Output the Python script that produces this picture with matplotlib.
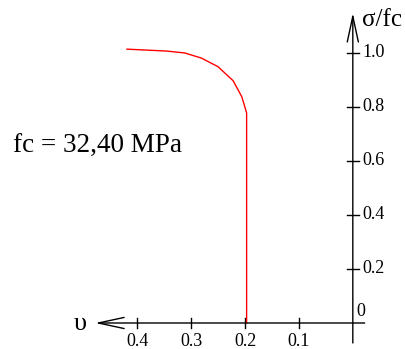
import matplotlib
matplotlib.use("Agg")
import matplotlib.pyplot as plt

plt.rcParams['font.family'] = ['Liberation Serif', 'DejaVu Serif']

# curve points (nu, sigma/fc)
nu = [0.419, 0.346, 0.312, 0.281, 0.250, 0.222, 0.206, 0.197, 0.197]
sig = [1.014, 1.007, 1.000, 0.981, 0.949, 0.897, 0.838, 0.778, 0.0]

xticks = [0.4, 0.3, 0.2, 0.1]
xlabels = ['0.4', '0.3', '0.2', '0.1']
yticks = [0.2, 0.4, 0.6, 0.8, 1.0]
ylabels = ['0.2', '0.4', '0.6', '0.8', '1.0']

fig = plt.figure(figsize=(4.05, 3.49), dpi=100)
ax = fig.add_axes([0, 0, 1, 1])
ax.set_xlim(0.6545, -0.0968)
ax.set_ylim(-0.0963, 1.196)
ax.axis('off')

# axes with open arrow heads
arr = dict(arrowstyle='->,head_length=18.5,head_width=4', mutation_scale=1,
           color='black', lw=1.0, shrinkA=0, shrinkB=0)
ax.annotate('', xy=(0, 1.148), xytext=(0, -0.074), arrowprops=arr)
ax.annotate('', xy=(0.478, 0), xytext=(-0.022, 0), arrowprops=arr)

# ticks crossing the axes
for v, lab in zip(xticks, xlabels):
    ax.plot([v, v], [-0.02, 0.02], color='black', lw=1.0)
    ax.annotate(lab, (v, 0), xytext=(0, -13.5), textcoords='offset points',
                ha='center', va='center', fontsize=13)
for s, lab in zip(yticks, ylabels):
    ax.plot([-0.011, 0.011], [s, s], color='black', lw=1.0)
    ax.annotate(lab, (0, s), xytext=(7, 0), textcoords='offset points',
                ha='left', va='center', fontsize=13)
ax.annotate('0', (0, 0), xytext=(6, 8), textcoords='offset points',
            ha='center', va='center', fontsize=13)

ax.plot(nu, sig, color='red', lw=1.0)

# axis names and note
ax.annotate('σ/fc', (0, 1.148), xytext=(21, -5), textcoords='offset points',
            ha='center', va='center', fontsize=18)
ax.annotate('υ', (0.478, 0), xytext=(-11, -1), textcoords='offset points',
            ha='center', va='center', fontsize=19)
ax.text(0.631, 0.655, 'fc = 32,40 MPa', ha='left', va='center', fontsize=19.5)

fig.savefig('out.png', dpi=100)
